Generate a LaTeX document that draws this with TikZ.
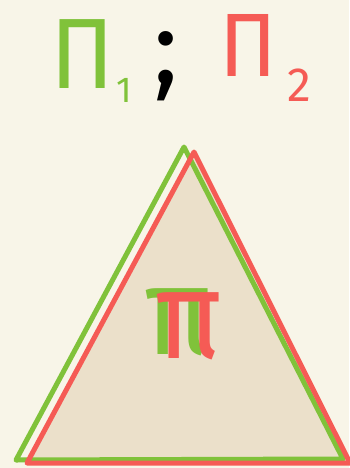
\documentclass[tikz,border=0pt]{standalone}
\usepackage{fontspec}
\setmainfont{Fira Sans}
\definecolor{bg}{HTML}{F8F5E8}
\definecolor{fillc}{HTML}{EBE0CA}
\definecolor{grn}{HTML}{80C23A}
\definecolor{rd}{HTML}{F55B55}
\begin{document}
\begin{tikzpicture}[x=1pt,y=-1pt,
  edge/.style={line width=5pt,line join=round,line cap=round},
  lbl/.style={inner sep=0pt,anchor=center}]
\fill[bg] (0,0) rectangle (349,468);
\useasboundingbox (0,0) rectangle (349,468);
\coordinate (gA) at (184,147);
\coordinate (gB) at (16,460);
\coordinate (gC) at (343,459);
\coordinate (rA) at (194,152);
\coordinate (rB) at (27,463);
\coordinate (rC) at (350,463);
\fill[fillc] (rA) -- (rB) -- (rC) -- cycle;
\draw[edge,grn] (gA) -- (gB) -- (gC) -- cycle;
\draw[edge,rd] (rA) -- (rB) -- (rC) -- cycle;
\node[lbl,text=grn,font=\fontsize{100}{100}\selectfont,xscale=0.95] (p1) at (83,54) {Π};
\node[lbl,text=grn,font=\fontsize{36}{36}\selectfont] (s1) at (124,90) {1};
\node[lbl,text=black,font=\fontsize{105}{105}\selectfont] (semi) at (166,66) {;};
\node[lbl,text=rd,font=\fontsize{90}{90}\selectfont,xscale=0.95] (p2) at (248,45) {Π};
\node[lbl,text=rd,font=\fontsize{48}{48}\selectfont] (s2) at (299,85) {2};
\node[lbl,text=grn,font=\fontsize{125}{125}\selectfont,xscale=0.9] (q1) at (178,322) {π};
\node[lbl,text=rd,font=\fontsize{125}{125}\selectfont,xscale=0.9] (q2) at (189,326) {π};
\end{tikzpicture}
\end{document}
